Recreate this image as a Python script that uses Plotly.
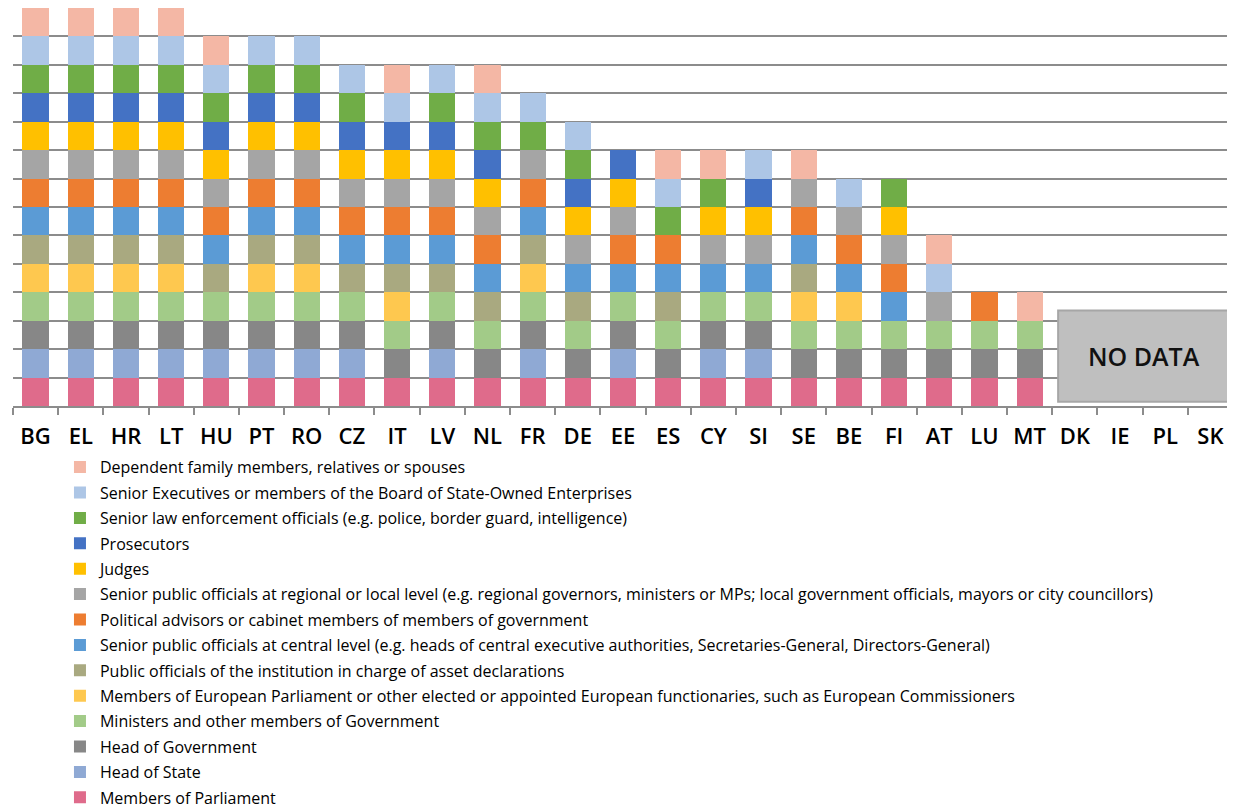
import plotly.graph_objects as go

countries = ["BG", "EL", "HR", "LT", "HU", "PT", "RO", "CZ", "IT", "LV", "NL", "FR", "DE", "EE",
             "ES", "CY", "SI", "SE", "BE", "FI", "AT", "LU", "MT", "DK", "IE", "PL", "SK"]
no_data = ["DK", "IE", "PL", "SK"]

# 1 = category of official covered in that country (bottom -> top of the stack)
members_of_parliament = [1,1,1,1,1,1,1,1,1,1,1,1,1,1,1,1,1,1,1,1,1,1,1,0,0,0,0]
head_of_state         = [1,1,1,1,1,1,1,1,0,1,0,1,0,1,0,1,1,0,0,0,0,0,0,0,0,0,0]
head_of_government    = [1,1,1,1,1,1,1,1,1,1,1,1,1,1,1,1,1,1,1,1,1,1,1,0,0,0,0]
ministers             = [1,1,1,1,1,1,1,1,1,1,1,1,1,1,1,1,1,1,1,1,1,1,1,0,0,0,0]
meps                  = [1,1,1,1,0,1,1,0,1,0,0,1,0,0,0,0,0,1,1,0,0,0,0,0,0,0,0]
asset_institution     = [1,1,1,1,1,1,1,1,1,1,1,1,1,0,1,0,0,1,0,0,0,0,0,0,0,0,0]
senior_central        = [1,1,1,1,1,1,1,1,1,1,1,1,1,1,1,1,1,1,1,1,0,0,0,0,0,0,0]
political_advisors    = [1,1,1,1,1,1,1,1,1,1,1,1,0,1,1,0,0,1,1,1,0,1,0,0,0,0,0]
senior_regional       = [1,1,1,1,1,1,1,1,1,1,1,1,1,1,0,1,1,1,1,1,1,0,0,0,0,0,0]
judges                = [1,1,1,1,1,1,1,1,1,1,1,0,1,1,0,1,1,0,0,1,0,0,0,0,0,0,0]
prosecutors           = [1,1,1,1,1,1,1,1,1,1,1,0,1,1,0,0,1,0,0,0,0,0,0,0,0,0,0]
law_enforcement       = [1,1,1,1,1,1,1,1,0,1,1,1,1,0,1,1,0,0,0,1,0,0,0,0,0,0,0]
soe_executives        = [1,1,1,1,1,1,1,1,1,1,1,1,1,0,1,0,1,0,1,0,1,0,0,0,0,0,0]
family_members        = [1,1,1,1,1,0,0,0,1,0,1,0,0,0,1,1,0,1,0,0,1,0,1,0,0,0,0]

series_names = [
    "Members of Parliament",
    "Head of State",
    "Head of Government",
    "Ministers and other members of Government",
    "Members of European Parliament or other elected or appointed European functionaries, such as European Commissioners",
    "Public officials of the institution in charge of asset declarations",
    "Senior public officials at central level (e.g. heads of central executive authorities, Secretaries-General, Directors-General)",
    "Political advisors or cabinet members of members of government",
    "Senior public officials at regional or local level (e.g. regional governors, ministers or MPs; local government officials, mayors or city councillors)",
    "Judges",
    "Prosecutors",
    "Senior law enforcement officials (e.g. police, border guard, intelligence)",
    "Senior Executives or members of the Board of State-Owned Enterprises",
    "Dependent family members, relatives or spouses",
]
series_values = [members_of_parliament, head_of_state, head_of_government, ministers, meps,
                 asset_institution, senior_central, political_advisors, senior_regional,
                 judges, prosecutors, law_enforcement, soe_executives, family_members]
series_colors = ["#DF6B8B", "#8FA9D4", "#878787", "#A2CB88", "#FEC84F", "#A9A980", "#5B9BD5",
                 "#ED7D31", "#A5A5A5", "#FFC000", "#4472C4", "#70AD47", "#ADC6E6", "#F4B7A5"]

FONT = "Open Sans"

fig = go.Figure()
n = len(series_names)
for i, (name, vals, col) in enumerate(zip(series_names, series_values, series_colors)):
    fig.add_trace(go.Bar(
        x=countries, y=vals, name=name, legendgroup=name, legendrank=n - i,
        marker=dict(color=col, line=dict(width=0)),
    ))

ymax = 14
i0 = countries.index(no_data[0])
i1 = countries.index(no_data[-1])
bx0, bx1, by0, by1 = i0 - 0.37, i1 + 0.41, 0.15, 3.36
fig.add_shape(type="rect", xref="x", yref="y",
              x0=bx0, x1=bx1, y0=by0, y1=by1,
              fillcolor="#BFBFBF", line=dict(color="#A6A6A6", width=2), layer="above")
fig.add_annotation(x=(bx0 + bx1) / 2, y=(by0 + by1) / 2, xref="x", yref="y",
                   text="NO DATA", showarrow=False,
                   font=dict(family=FONT, size=25, color="#111111", weight=600))

# the page body adds an 8px offset, so the figure is 8px smaller on each axis
fig.update_layout(
    width=1227, height=802,
    barmode="stack", bargap=0.42,
    plot_bgcolor="white", paper_bgcolor="white",
    margin=dict(l=5, r=2, t=0, b=404, autoexpand=False),
    font=dict(family=FONT, size=16, color="#000000"),
    legend=dict(
        traceorder="grouped", tracegroupgap=1.6,
        orientation="v", x=0.0385, xanchor="left", y=-0.111, yanchor="top",
        font=dict(family=FONT, size=16, color="#000000"),
        itemwidth=30, bgcolor="rgba(0,0,0,0)",
    ),
    showlegend=True,
)
fig.update_xaxes(
    type="category", showgrid=False, showline=True, linecolor="#8C8C8C", linewidth=1.5,
    ticks="outside", tickson="boundaries", ticklen=7, tickcolor="#8C8C8C", tickwidth=1.5,
    ticklabelstandoff=10,
    tickfont=dict(family=FONT, size=22, color="#000000", weight=600),
)
fig.update_yaxes(
    range=[0, ymax], dtick=1, showgrid=True, gridcolor="#8C8C8C", gridwidth=1.5,
    showticklabels=False, zeroline=False, showline=False, fixedrange=True,
)

fig.write_html("out.html")
